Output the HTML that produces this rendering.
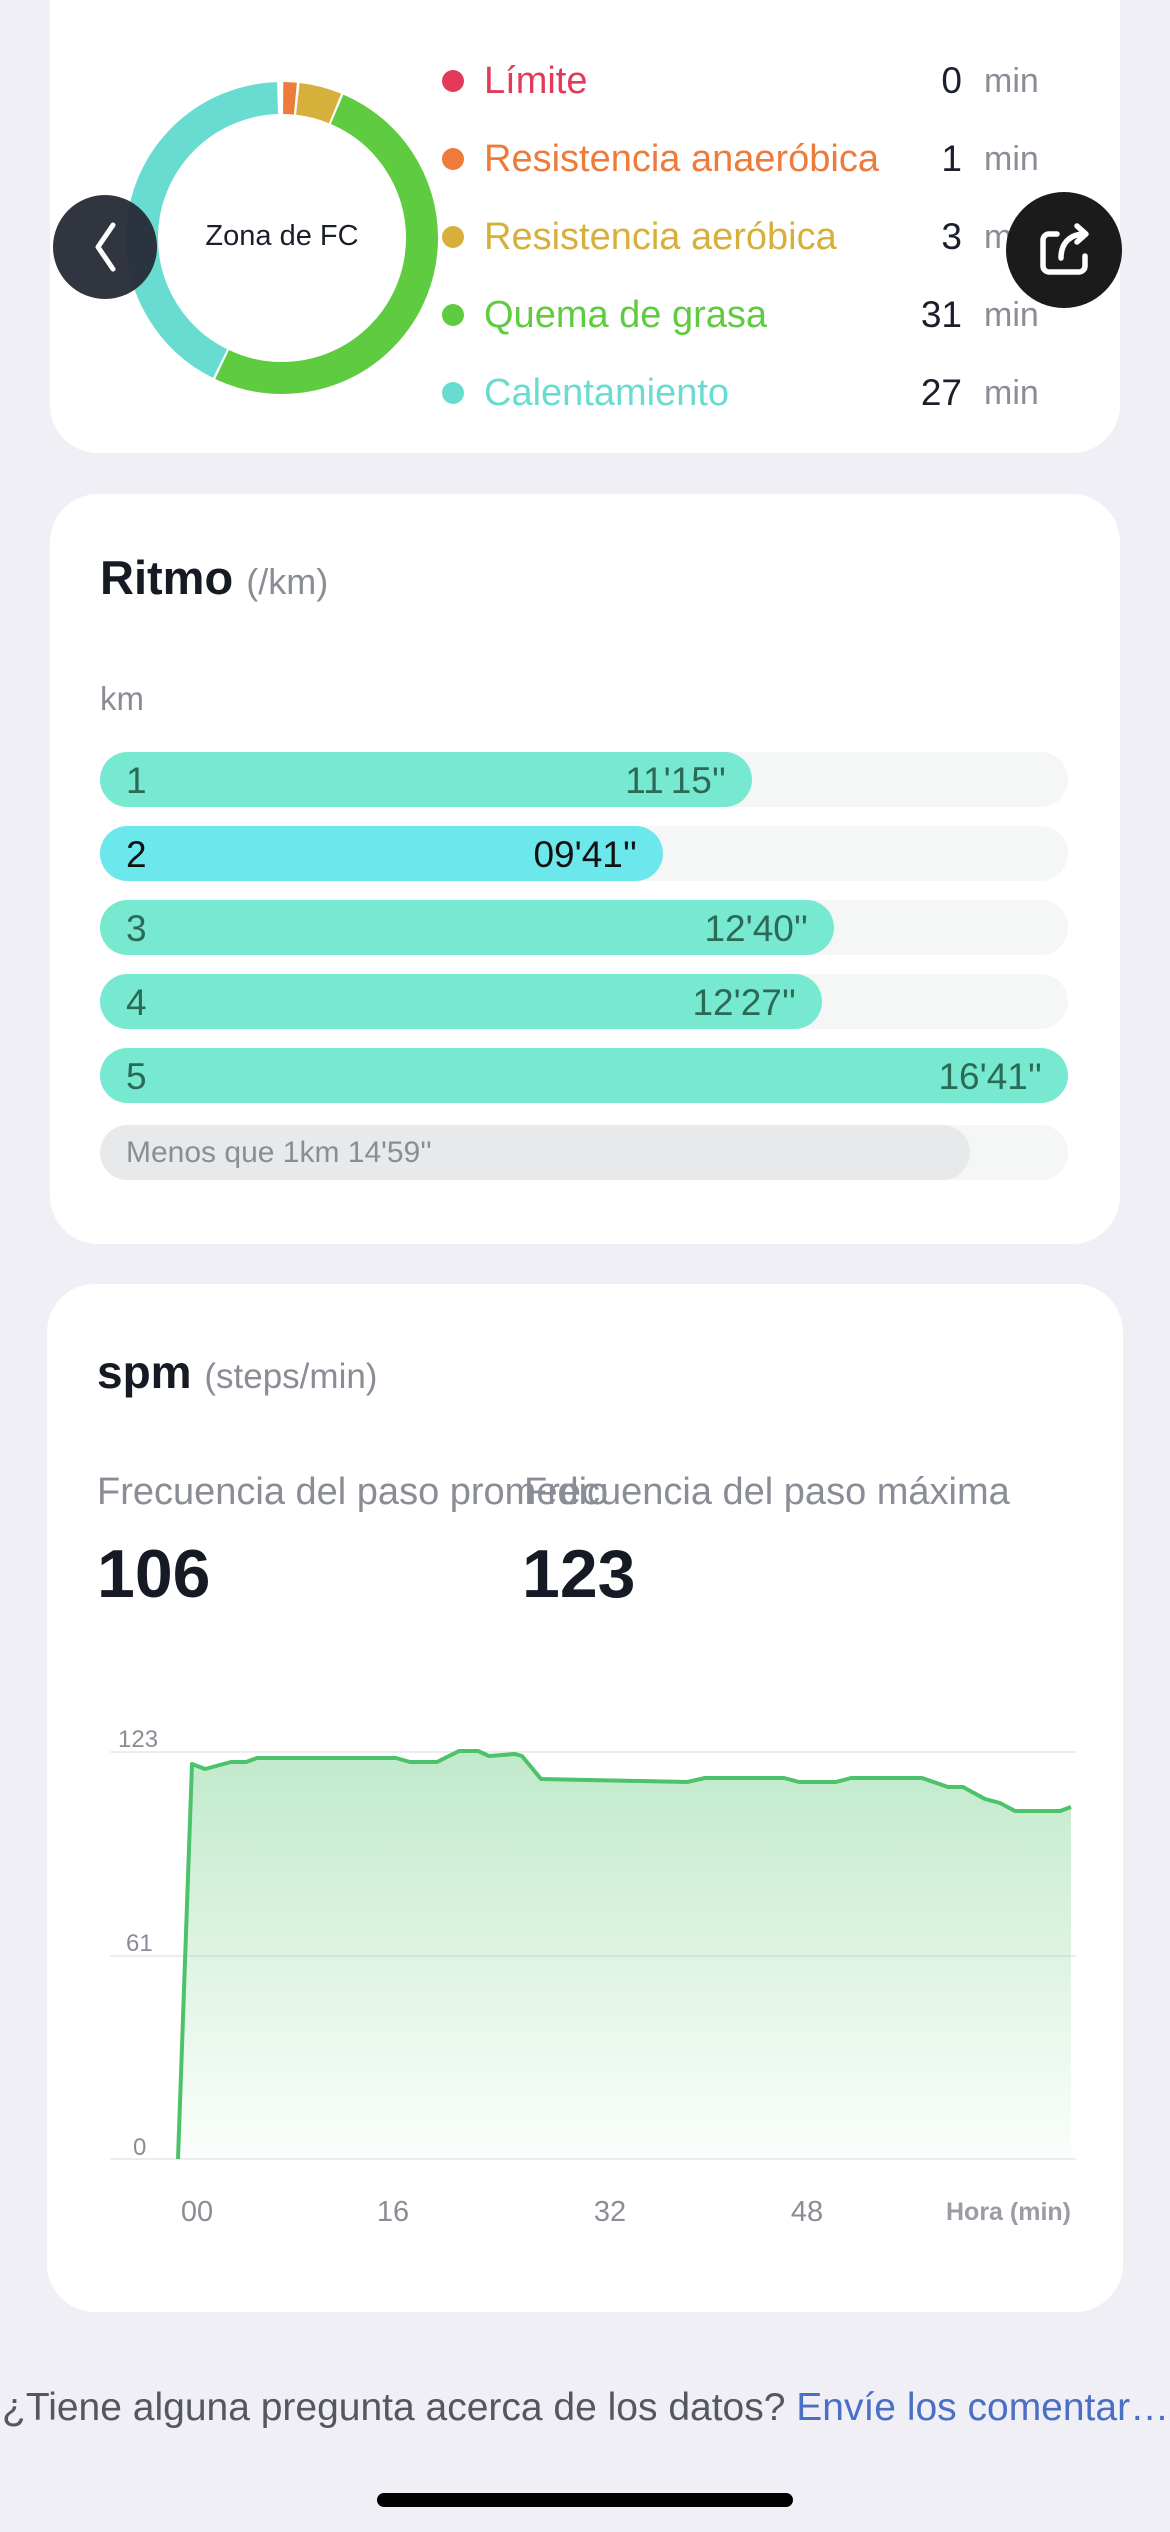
<!DOCTYPE html>
<html><head><meta charset="utf-8">
<style>
*{margin:0;padding:0;box-sizing:border-box}
body{width:1170px;height:2532px;background:#efeff5;position:relative;overflow:hidden;font-family:"Liberation Sans",sans-serif}
.card{position:absolute;background:#fff;border-radius:48px}
.t{position:absolute;white-space:nowrap}
.dot{position:absolute;width:22px;height:22px;border-radius:50%}
.lg{position:absolute;left:484px;font-size:38px;line-height:40px}
.num{position:absolute;right:208px;font-size:37px;color:#1b1f2b;line-height:40px}
.min{position:absolute;left:984px;font-size:34px;color:#8a8d95;line-height:40px}
.track{position:absolute;left:100px;width:968px;height:55px;border-radius:28px;background:#f5f7f7}
.bar{position:absolute;left:0;top:0;height:55px;border-radius:28px;background:#76e9d0}
.bar .k{position:absolute;left:26px;top:8px;font-size:37px;color:#2c6a55}
.bar .v{position:absolute;right:26px;top:8px;font-size:37px;color:#2c6a55}
</style></head><body>

<div class="card" style="left:50px;top:-60px;width:1070px;height:513px"></div>
<svg style="position:absolute;left:0;top:0" width="600" height="460">
 <g transform="rotate(-90 282 238)" fill="none" stroke-width="32">
  <circle cx="282" cy="238" r="140" stroke="#ee7b3a" stroke-dasharray="12.2 900" stroke-dashoffset="-1.2"/>
  <circle cx="282" cy="238" r="140" stroke="#d6b03a" stroke-dasharray="38.5 900" stroke-dashoffset="-15.9"/>
  <circle cx="282" cy="238" r="140" stroke="#5fcb40" stroke-dasharray="445 900" stroke-dashoffset="-56.6"/>
  <circle cx="282" cy="238" r="140" stroke="#69dcd2" stroke-dasharray="371 900" stroke-dashoffset="-503.8"/>
 </g>
</svg>
<div class="t" style="left:182px;top:220px;width:200px;text-align:center;font-size:29px;color:#1b1f2b">Zona de FC</div>

<div class="dot" style="left:442px;top:70px;background:#e33a5a"></div>
<div class="lg" style="top:61px;color:#e33a5a">Límite</div>
<div class="num" style="top:61px">0</div><div class="min" style="top:61px">min</div>
<div class="dot" style="left:442px;top:148px;background:#ee7b3a"></div>
<div class="lg" style="top:139px;color:#ee7b3a">Resistencia anaeróbica</div>
<div class="num" style="top:139px">1</div><div class="min" style="top:139px">min</div>
<div class="dot" style="left:442px;top:226px;background:#d6b03a"></div>
<div class="lg" style="top:217px;color:#d6b03a">Resistencia aeróbica</div>
<div class="num" style="top:217px">3</div><div class="min" style="top:217px">min</div>
<div class="dot" style="left:442px;top:304px;background:#5fcb40"></div>
<div class="lg" style="top:295px;color:#5fcb40">Quema de grasa</div>
<div class="num" style="top:295px">31</div><div class="min" style="top:295px">min</div>
<div class="dot" style="left:442px;top:382px;background:#69dcd2"></div>
<div class="lg" style="top:373px;color:#69dcd2">Calentamiento</div>
<div class="num" style="top:373px">27</div><div class="min" style="top:373px">min</div>

<svg style="position:absolute;left:53px;top:195px" width="105" height="105">
 <circle cx="52" cy="52" r="52" fill="#262a36" fill-opacity="0.95"/>
 <path d="M60 30 L45 52 L60 74" stroke="#fff" stroke-width="5" fill="none" stroke-linecap="round" stroke-linejoin="round"/>
</svg>
<svg style="position:absolute;left:1005px;top:190px" width="118" height="120">
 <circle cx="59" cy="60" r="58" fill="#1b1b1b"/>
 <path d="M52 44 H44 a6 6 0 0 0 -6 6 V76 a6 6 0 0 0 6 6 H74 a6 6 0 0 0 6 -6 V66" stroke="#fff" stroke-width="5.5" fill="none" stroke-linecap="round"/>
 <path d="M56 68 C56 52 66 44 80 44 M72 36 L81 44 L72 52" stroke="#fff" stroke-width="5.5" fill="none" stroke-linecap="round" stroke-linejoin="round"/>
</svg>

<div class="card" style="left:50px;top:494px;width:1070px;height:750px"></div>
<div class="t" style="left:100px;top:550px;font-size:47px;font-weight:bold;color:#161a24">Ritmo <span style="font-size:36px;font-weight:normal;color:#8a8d95">(/km)</span></div>
<div class="t" style="left:100px;top:680px;font-size:33px;color:#8a8d95">km</div>

<div class="track" style="top:752px"><div class="bar" style="width:652px"><span class="k">1</span><span class="v">11'15''</span></div></div>
<div class="track" style="top:826px"><div class="bar" style="width:563px;background:#6ce7ec"><span class="k" style="color:#111">2</span><span class="v" style="color:#111">09'41''</span></div></div>
<div class="track" style="top:900px"><div class="bar" style="width:734px"><span class="k">3</span><span class="v">12'40''</span></div></div>
<div class="track" style="top:974px"><div class="bar" style="width:722px"><span class="k">4</span><span class="v">12'27''</span></div></div>
<div class="track" style="top:1048px"><div class="bar" style="width:968px"><span class="k">5</span><span class="v">16'41''</span></div></div>
<div class="track" style="top:1125px"><div class="bar" style="width:870px;background:#e8e9eb"><span class="k" style="top:11px;font-size:30px;color:#8a8d95">Menos que 1km 14'59''</span></div></div>

<div class="card" style="left:47px;top:1284px;width:1076px;height:1028px"></div>
<div class="t" style="left:97px;top:1345px;font-size:46px;font-weight:bold;color:#161a24">spm <span style="font-size:35px;font-weight:normal;color:#8a8d95">(steps/min)</span></div>
<div class="t" style="left:97px;top:1471px;font-size:38px;color:#8a8d95">Frecuencia del paso promedio</div>
<div class="t" style="left:524px;top:1471px;font-size:38px;color:#8a8d95">Frecuencia del paso máxima</div>
<div class="t" style="left:97px;top:1535px;font-size:68px;font-weight:bold;color:#161a24">106</div>
<div class="t" style="left:522px;top:1535px;font-size:68px;font-weight:bold;color:#161a24">123</div>

<svg style="position:absolute;left:0;top:1700px" width="1170" height="560">
 <defs><linearGradient id="g" x1="0" y1="0" x2="0" y2="1">
  <stop offset="0" stop-color="#4cc26a" stop-opacity="0.35"/>
  <stop offset="1" stop-color="#4cc26a" stop-opacity="0.02"/>
 </linearGradient></defs>
 <g stroke="#e6e7ea" stroke-width="1.5">
  <line x1="110" y1="52" x2="1076" y2="52"/>
  <line x1="110" y1="256" x2="1076" y2="256"/>
  <line x1="110" y1="459" x2="1076" y2="459"/>
 </g>
 <g font-size="24" fill="#8a8d95" font-family="Liberation Sans,sans-serif">
  <text x="118" y="47">123</text><text x="126" y="251">61</text><text x="133" y="455">0</text>
 </g>
 <path d="M178 459 L192 64 L205 69 L231 62 L246 62 L257 58 L396 58 L410 62 L437 62 L459 51 L478 51 L489 56 L515 54 L522 56 L541 79 L687 82 L705 78 L784 78 L799 82 L836 82 L851 78 L922 78 L948 87 L963 87 L985 99 L1000 103 L1015 111 L1060 111 L1071 107 L1071 459 Z" fill="url(#g)"/>
 <path d="M178 459 L192 64 L205 69 L231 62 L246 62 L257 58 L396 58 L410 62 L437 62 L459 51 L478 51 L489 56 L515 54 L522 56 L541 79 L687 82 L705 78 L784 78 L799 82 L836 82 L851 78 L922 78 L948 87 L963 87 L985 99 L1000 103 L1015 111 L1060 111 L1071 107" fill="none" stroke="#4cc26a" stroke-width="4" stroke-linejoin="round"/>
 <g font-size="29" fill="#8a8d95" font-family="Liberation Sans,sans-serif" text-anchor="middle">
  <text x="197" y="521">00</text><text x="393" y="521">16</text><text x="610" y="521">32</text><text x="807" y="521">48</text>
 </g>
 <text x="1071" y="520" font-size="25" font-weight="bold" fill="#9a9ca3" text-anchor="end" font-family="Liberation Sans,sans-serif">Hora (min)</text>
</svg>

<div class="t" style="left:2px;top:2386px;font-size:39px;color:#55575e">¿Tiene alguna pregunta acerca de los datos? <span style="color:#4a6fc4">Envíe los comentar…</span></div>
<div style="position:absolute;left:377px;top:2493px;width:416px;height:14px;border-radius:7px;background:#000"></div>
</body></html>
